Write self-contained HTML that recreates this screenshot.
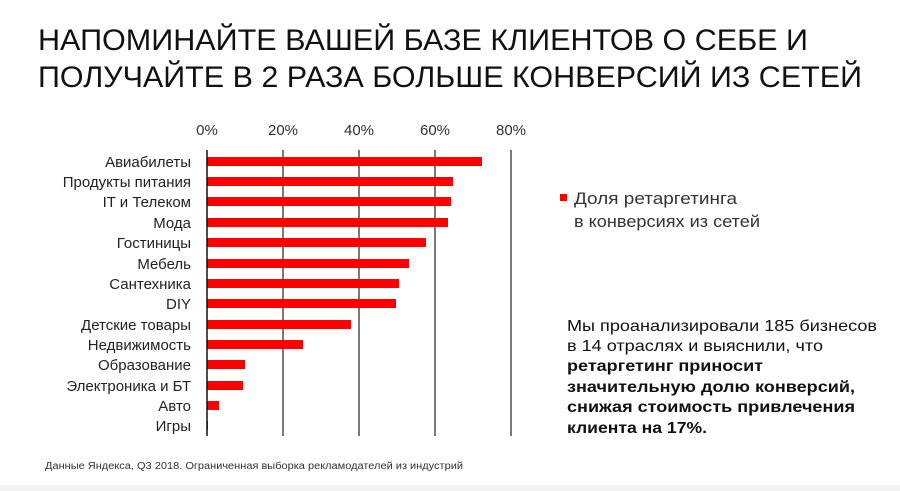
<!DOCTYPE html>
<html><head><meta charset="utf-8"><style>
html,body{margin:0;padding:0;background:#fff;}
svg{display:block;font-family:"Liberation Sans",sans-serif;}
</style></head><body>
<svg width="900" height="491" viewBox="0 0 900 491" xmlns="http://www.w3.org/2000/svg">
<rect x="0" y="0" width="900" height="491" fill="#fff"/>
<rect x="0" y="485" width="900" height="6" fill="#f3f3f3"/>
<text x="38" y="50" font-size="30" fill="#111" textLength="770" lengthAdjust="spacingAndGlyphs">НАПОМИНАЙТЕ ВАШЕЙ БАЗЕ КЛИЕНТОВ О СЕБЕ И</text>
<text x="38" y="87" font-size="30" fill="#111" textLength="824" lengthAdjust="spacingAndGlyphs">ПОЛУЧАЙТЕ В 2 РАЗА БОЛЬШЕ КОНВЕРСИЙ ИЗ СЕТЕЙ</text>
<g font-size="15" fill="#333" text-anchor="middle">
<text x="207" y="135">0%</text><text x="283" y="135">20%</text><text x="359" y="135">40%</text><text x="435" y="135">60%</text><text x="511" y="135">80%</text>
</g>
<g stroke="#222" stroke-width="1.2">
<line x1="283" y1="150" x2="283" y2="436"/><line x1="359" y1="150" x2="359" y2="436"/><line x1="435" y1="150" x2="435" y2="436"/><line x1="511" y1="150" x2="511" y2="436"/>
</g>
<g fill="#f00">
<rect x="207" y="157" width="275" height="9"/>
<rect x="207" y="177" width="246" height="9"/>
<rect x="207" y="197" width="244" height="9"/>
<rect x="207" y="218" width="241" height="9"/>
<rect x="207" y="238" width="219" height="9"/>
<rect x="207" y="259" width="202" height="9"/>
<rect x="207" y="279" width="192" height="9"/>
<rect x="207" y="299" width="189" height="9"/>
<rect x="207" y="320" width="144" height="9"/>
<rect x="207" y="340" width="96" height="9"/>
<rect x="207" y="360" width="38" height="9"/>
<rect x="207" y="381" width="36" height="9"/>
<rect x="207" y="401" width="12" height="9"/>
<rect x="207" y="421" width="1" height="9"/>
</g>
<line x1="207" y1="150" x2="207" y2="436" stroke="#111" stroke-width="1.5"/>
<g font-size="15" fill="#222" text-anchor="end">
<text x="191" y="167">Авиабилеты</text>
<text x="191" y="187">Продукты питания</text>
<text x="191" y="207">IT и Телеком</text>
<text x="191" y="228">Мода</text>
<text x="191" y="248">Гостиницы</text>
<text x="191" y="269">Мебель</text>
<text x="191" y="289">Сантехника</text>
<text x="191" y="309">DIY</text>
<text x="191" y="330">Детские товары</text>
<text x="191" y="350">Недвижимость</text>
<text x="191" y="370">Образование</text>
<text x="191" y="391">Электроника и БТ</text>
<text x="191" y="411">Авто</text>
<text x="191" y="431">Игры</text>
</g>
<rect x="560" y="194" width="7" height="7" fill="#f00"/>
<text x="574" y="204" font-size="17" fill="#333" textLength="163" lengthAdjust="spacingAndGlyphs">Доля ретаргетинга</text>
<text x="574" y="227" font-size="17" fill="#333" textLength="186" lengthAdjust="spacingAndGlyphs">в конверсиях из сетей</text>
<g font-size="16" fill="#111">
<text x="567" y="331" textLength="310" lengthAdjust="spacingAndGlyphs">Мы проанализировали 185 бизнесов</text>
<text x="567" y="351" textLength="256" lengthAdjust="spacingAndGlyphs">в 14 отраслях и выяснили, что</text>
<g font-weight="bold">
<text x="567" y="371" textLength="196" lengthAdjust="spacingAndGlyphs">ретаргетинг приносит</text>
<text x="567" y="392" textLength="288" lengthAdjust="spacingAndGlyphs">значительную долю конверсий,</text>
<text x="567" y="412" textLength="288" lengthAdjust="spacingAndGlyphs">снижая стоимость привлечения</text>
<text x="567" y="433" textLength="140" lengthAdjust="spacingAndGlyphs">клиента на 17%.</text>
</g></g>
<text x="45" y="469" font-size="10" fill="#333" textLength="418" lengthAdjust="spacingAndGlyphs">Данные Яндекса, Q3 2018. Ограниченная выборка рекламодателей из индустрий</text>
</svg>
</body></html>
